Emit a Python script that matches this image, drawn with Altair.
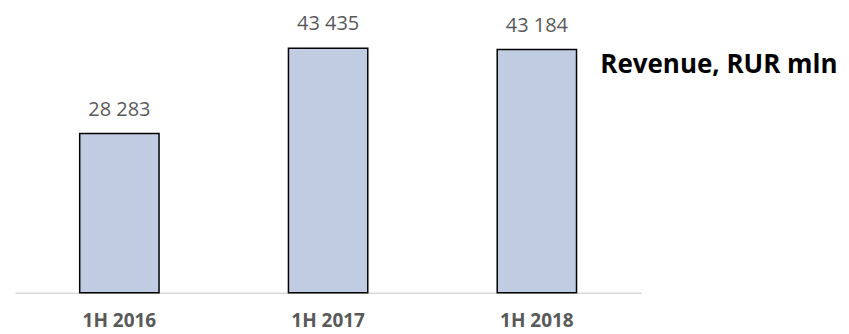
import altair as alt
import pandas as pd

periods = ["1H 2016", "1H 2017", "1H 2018"]
revenue = [28283, 43435, 43184]
labels = ["28 283", "43 435", "43 184"]
title_text = "Revenue, RUR mln"

df = pd.DataFrame({"period": periods, "revenue": revenue, "label": labels})

x = alt.X("period:N", sort=periods,
          scale=alt.Scale(paddingInner=0.62, paddingOuter=0.31),
          axis=alt.Axis(title=None, labelAngle=0, ticks=False, domainColor="#d9d9d9",
                        domainWidth=1.5, labelFont="Open Sans", labelFontSize=19,
                        labelFontWeight="bold", labelColor="#595959", labelPadding=19))
y = alt.Y("revenue:Q", scale=alt.Scale(domain=[0, 50000], nice=False), axis=None)

bars = alt.Chart(df).mark_bar(fill="#c0cce2", stroke="#000000", strokeWidth=1.5).encode(x=x, y=y)
text = alt.Chart(df).mark_text(dy=-18, baseline="alphabetic", font="Open Sans", fontSize=20,
                               color="#595959").encode(x=x, y=y, text="label:N")
title = alt.Chart(pd.DataFrame({"t": [title_text]})).mark_text(
    align="left", baseline="alphabetic", font="Open Sans", fontSize=26, fontWeight="bold",
    color="#000000").encode(x=alt.value(586), y=alt.value(62), text="t:N")

chart = alt.layer(bars, text, title).properties(
    width=627, height=282,
    autosize=alt.AutoSizeParams(type="none"),
    padding={"left": 7, "top": 3, "right": 200, "bottom": 50},
).configure_view(stroke=None)

chart.save("out.html", embed_options={"renderer": "svg", "actions": False})
